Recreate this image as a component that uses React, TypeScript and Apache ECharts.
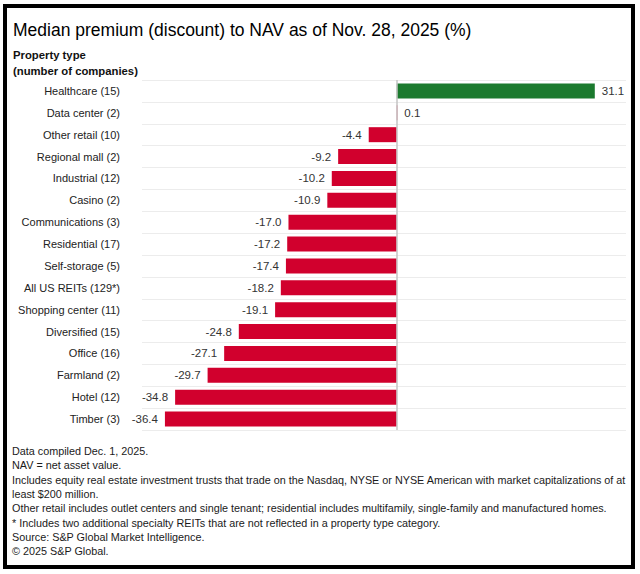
import React, { useEffect, useRef } from "react";
import * as echarts from "echarts";

const categories = [
  "Healthcare (15)",
  "Data center (2)",
  "Other retail (10)",
  "Regional mall (2)",
  "Industrial (12)",
  "Casino (2)",
  "Communications (3)",
  "Residential (17)",
  "Self-storage (5)",
  "All US REITs (129*)",
  "Shopping center (11)",
  "Diversified (15)",
  "Office (16)",
  "Farmland (2)",
  "Hotel (12)",
  "Timber (3)",
];

const values = [31.1, 0.1, -4.4, -9.2, -10.2, -10.9, -17.0, -17.2, -17.4, -18.2, -19.1, -24.8, -27.1, -29.7, -34.8, -36.4];

const titleText = "Median premium (discount) to NAV as of Nov. 28, 2025 (%)";
const axisTitleLines = ["Property type", "(number of companies)"];
const footnotes = [
  "Data compiled Dec. 1, 2025.",
  "NAV = net asset value.",
  "Includes equity real estate investment trusts that trade on the Nasdaq, NYSE or NYSE American with market capitalizations of at",
  "least $200 million.",
  "Other retail includes outlet centers and single tenant; residential includes multifamily, single-family and manufactured homes.",
  "* Includes two additional specialty REITs that are not reflected in a property type category.",
  "Source: S&P Global Market Intelligence.",
  "\u00a9 2025 S&P Global.",
];

const FONT = "'Liberation Sans', Arial, sans-serif";
const RED = "#D1002D";
const GREEN = "#1B7A2E";

export default function App() {
  const ref = useRef<HTMLDivElement>(null);

  useEffect(() => {
    if (!ref.current) return;
    const chart = echarts.init(ref.current, null, { renderer: "svg" });

    const graphics: any[] = [
      {
        type: "rect",
        shape: { x: 5, y: 6, width: 628, height: 561 },
        style: { fill: "none", stroke: "#000", lineWidth: 4 },
        silent: true,
      },
      {
        type: "text",
        x: 13,
        y: 30,
        style: {
          text: titleText,
          fontFamily: FONT,
          fontSize: 17.5,
          fill: "#000",
          verticalAlign: "middle",
        },
      },
      ...axisTitleLines.map((t, i) => ({
        type: "text",
        x: 13,
        y: 55 + i * 16,
        style: {
          text: t,
          fontFamily: FONT,
          fontSize: 11.3,
          fontWeight: "bold",
          fill: "#111",
          verticalAlign: "middle",
        },
      })),
      ...footnotes.map((t, i) => ({
        type: "text",
        x: 12,
        y: 451 + i * 14.3,
        style: {
          text: t,
          fontFamily: FONT,
          fontSize: 10.8,
          fill: "#1a1a1a",
          verticalAlign: "middle",
        },
      })),
    ];

    chart.setOption({
      animation: false,
      backgroundColor: "#fff",
      grid: { left: 142, right: 14, top: 80, bottom: 144, containLabel: false },
      xAxis: {
        type: "value",
        min: -40,
        max: 36,
        axisLine: { show: false },
        axisTick: { show: false },
        axisLabel: { show: false },
        splitLine: { show: false },
      },
      yAxis: {
        type: "category",
        inverse: true,
        data: categories,
        axisLine: { show: false },
        axisTick: { show: false },
        axisLabel: {
          margin: 22,
          fontFamily: FONT,
          fontSize: 11,
          color: "#222",
        },
        splitLine: { show: true, lineStyle: { color: "#ececec", width: 1 } },
      },
      series: [
        {
          type: "bar",
          barWidth: 15,
          data: values.map((v) => ({
            value: v,
            itemStyle: { color: v > 1 ? GREEN : RED },
            label: { position: v >= 0 ? "right" : "left" },
          })),
          label: {
            show: true,
            distance: 7,
            fontFamily: FONT,
            fontSize: 11.5,
            color: "#333",
            formatter: (p: any) => Number(p.value).toFixed(1),
          },
          markLine: {
            silent: true,
            symbol: "none",
            label: { show: false },
            lineStyle: { color: "#c4c4c4", width: 1.5, type: "solid" },
            data: [{ xAxis: 0 }],
          },
        },
      ],
      graphic: graphics,
    });

    return () => chart.dispose();
  }, []);

  return (
    <div
      ref={ref}
      style={{ position: "fixed", left: 0, top: 0, width: 640, height: 574 }}
    />
  );
}
